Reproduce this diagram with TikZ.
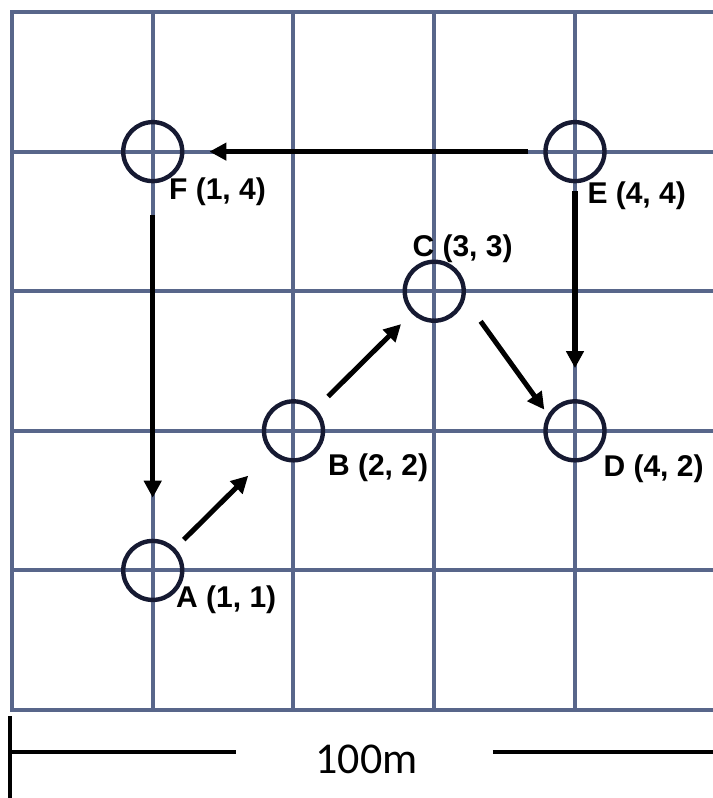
\documentclass[tikz,border=0pt]{standalone}
\usepackage{fontspec}
\setmainfont{Liberation Sans}
\newfontfamily\barfont{Carlito}
\usepackage{tikz}
\usetikzlibrary{arrows.meta, positioning}
\definecolor{gridslate}{RGB}{88,102,138}
\definecolor{ringnavy}{RGB}{22,26,50}

\begin{document}
\begin{tikzpicture}[x=70.375pt, y=69.8pt,
    site/.style={circle, draw=ringnavy, line width=2.2pt, minimum size=29.5pt, inner sep=0pt},
    tag/.style={font=\bfseries\fontsize{15}{18}\selectfont, inner sep=0pt, anchor=base west},
    move/.style={line width=2.5pt, -{Triangle[length=8.5pt, width=8.5pt]}}]
    \useasboundingbox (-0.085,-0.63) rectangle (4.98,5.086);
    % Grid
    \foreach \x in {0,...,4}
        \draw[gridslate, line width=2pt, line cap=rect] (\x,0) -- (\x,5);
    \foreach \y in {0,...,5}
        \draw[gridslate, line width=2pt, line cap=rect] (0,\y) -- (5.1,\y);

    % Sites on the grid
    \node[site] (A) at (1,1) {};
    \node[site] (B) at (2,2) {};
    \node[site] (C) at (3,3) {};
    \node[site] (D) at (4,2) {};
    \node[site] (E) at (4,4) {};
    \node[site] (F) at (1,4) {};

    % Site labels
    \node[tag] (labA) at (1.164,0.736) {A (1, 1)};
    \node[tag] (labB) at (2.243,1.679) {B (2, 2)};
    \node[tag] (labC) at (2.843,3.250) {C (3, 3)};
    \node[tag] (labD) at (4.200,1.672) {D (4, 2)};
    \node[tag] (labE) at (4.086,3.629) {E (4, 4)};
    \node[tag] (labF) at (1.114,3.658) {F (1, 4)};

    % Route
    \draw[move, shorten <=6pt, shorten >=16pt] (A) -- (B);
    \draw[move, shorten <=8.5pt, shorten >=7.5pt] (B) -- (C);
    \draw[move, shorten <=13.5pt, shorten >=3pt] (C.-15) -- (D.149);
    \draw[move, shorten <=4pt, shorten >=15.5pt] (E) -- (D);
    \draw[move, shorten <=7.5pt, shorten >=12.5pt] (E) -- (F);
    \draw[move, shorten <=16pt, shorten >=20.5pt] (F) -- (A);

    % Scale bar
    \coordinate (tickTop) at (-0.014,-0.043);
    \coordinate (tickBot) at (-0.014,-0.7);
    \coordinate (barL) at (-0.014,-0.301);
    \coordinate (barLend) at (1.59,-0.301);
    \coordinate (barRstart) at (3.417,-0.301);
    \coordinate (barR) at (5.1,-0.301);
    \draw[line width=1.6pt] (tickTop) -- (tickBot);
    \draw[line width=2pt] (barL) -- (barLend);
    \draw[line width=2pt] (barRstart) -- (barR);
    \node[font=\barfont\fontsize{22}{26}\selectfont, inner sep=0pt, anchor=base] (dist) at (2.52,-0.451) {100m};
\end{tikzpicture}
\end{document}
